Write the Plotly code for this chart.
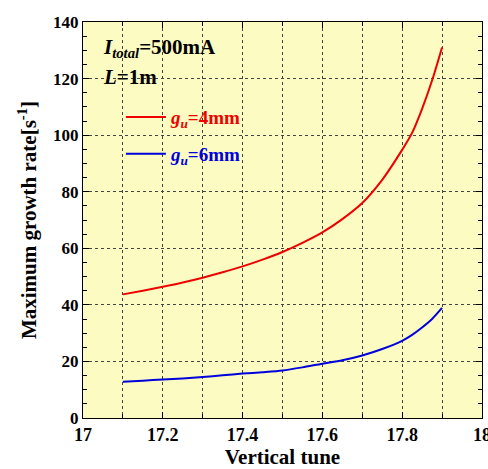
import plotly.graph_objects as go

tune = [17.10, 17.15, 17.20, 17.25, 17.30, 17.35, 17.40, 17.45, 17.50, 17.55,
        17.60, 17.65, 17.70, 17.75, 17.80, 17.825, 17.85, 17.875, 17.90]
rate_g4 = [43.7, 45.0, 46.4, 47.9, 49.6, 51.5, 53.6, 56.0, 58.7, 61.9,
           65.6, 70.3, 76.0, 84.2, 94.8, 100.8, 109.3, 119.3, 131.0]
rate_g6 = [12.8, 13.2, 13.6, 14.0, 14.5, 15.1, 15.7, 16.2, 16.8, 17.9,
           19.2, 20.4, 22.1, 24.4, 27.3, 29.4, 32.0, 35.0, 38.9]

x_ticks = [17, 17.2, 17.4, 17.6, 17.8, 18]
y_ticks = [0, 20, 40, 60, 80, 100, 120, 140]

FONT = "Liberation Serif"
BG = "#FBFBC2"

fig = go.Figure()
fig.add_trace(go.Scatter(
    x=tune, y=rate_g4, mode="lines",
    line=dict(color="#EE0000", width=2, shape="spline", smoothing=0.8),
    name="<i>g</i><sub><i>u</i></sub>=4mm", legend="legend"))
fig.add_trace(go.Scatter(
    x=tune, y=rate_g6, mode="lines",
    line=dict(color="#0000DD", width=2, shape="spline", smoothing=0.8),
    name="<i>g</i><sub><i>u</i></sub>=6mm", legend="legend2"))

axis_common = dict(
    showline=True, linecolor="black", linewidth=1, mirror="ticks",
    ticks="inside", tickcolor="black", ticklen=6, tickwidth=1,
    showgrid=True, gridcolor="#444444", griddash="dot", gridwidth=1,
    zeroline=False, ticklabeloverflow="allow", automargin=False,
)

fig.update_xaxes(
    **axis_common, range=[17, 18.0002], tickvals=x_ticks,
    ticktext=[str(v) for v in x_ticks],
    tickfont=dict(family=FONT, size=18, color="black", weight="bold"),
    minor=dict(dtick=0.1, tick0=17, showgrid=True, gridcolor="#444444",
               griddash="dot", ticks="inside", ticklen=4, tickcolor="black"),
    title=dict(text="Vertical tune", standoff=6,
               font=dict(family=FONT, size=21, color="black", weight="bold")),
)
fig.update_yaxes(
    **axis_common, range=[0, 140], tickvals=y_ticks,
    tickfont=dict(family=FONT, size=17, color="black", weight="bold"),
    minor=dict(dtick=5, tick0=0, showgrid=False, ticks="inside", ticklen=4,
               tickcolor="black"),
    title=dict(text="Maximum growth rate[s<sup>-1</sup>]", standoff=10,
               font=dict(family=FONT, size=21, color="black", weight="bold")),
)

legend_font = dict(family=FONT, size=19, weight="bold")
fig.update_layout(
    width=488, height=469,
    margin=dict(l=83, r=6, t=22, b=51),
    paper_bgcolor="white", plot_bgcolor=BG,
    showlegend=True,
    legend=dict(x=0.095, y=0.76, xanchor="left", yanchor="middle", itemwidth=40,
                bgcolor="rgba(0,0,0,0)", font=dict(color="#EE0000", **legend_font)),
    legend2=dict(x=0.095, y=0.667, xanchor="left", yanchor="middle", itemwidth=40,
                 bgcolor="rgba(0,0,0,0)", font=dict(color="#0000DD", **legend_font)),
    annotations=[
        dict(xref="paper", yref="paper", x=0.045, y=0.935, xanchor="left",
             yanchor="middle", showarrow=False,
             text="<i>I</i><sub><i>total</i></sub>=500mA",
             font=dict(family=FONT, size=21, color="black", weight="bold")),
        dict(xref="paper", yref="paper", x=0.045, y=0.86, xanchor="left",
             yanchor="middle", showarrow=False,
             text="<i>L</i>=1m",
             font=dict(family=FONT, size=21, color="black", weight="bold")),
    ],
)

fig.write_html("out.html", config={"displayModeBar": False},
               post_script="document.body.style.margin='0';"
                           "document.body.style.padding='0';")
